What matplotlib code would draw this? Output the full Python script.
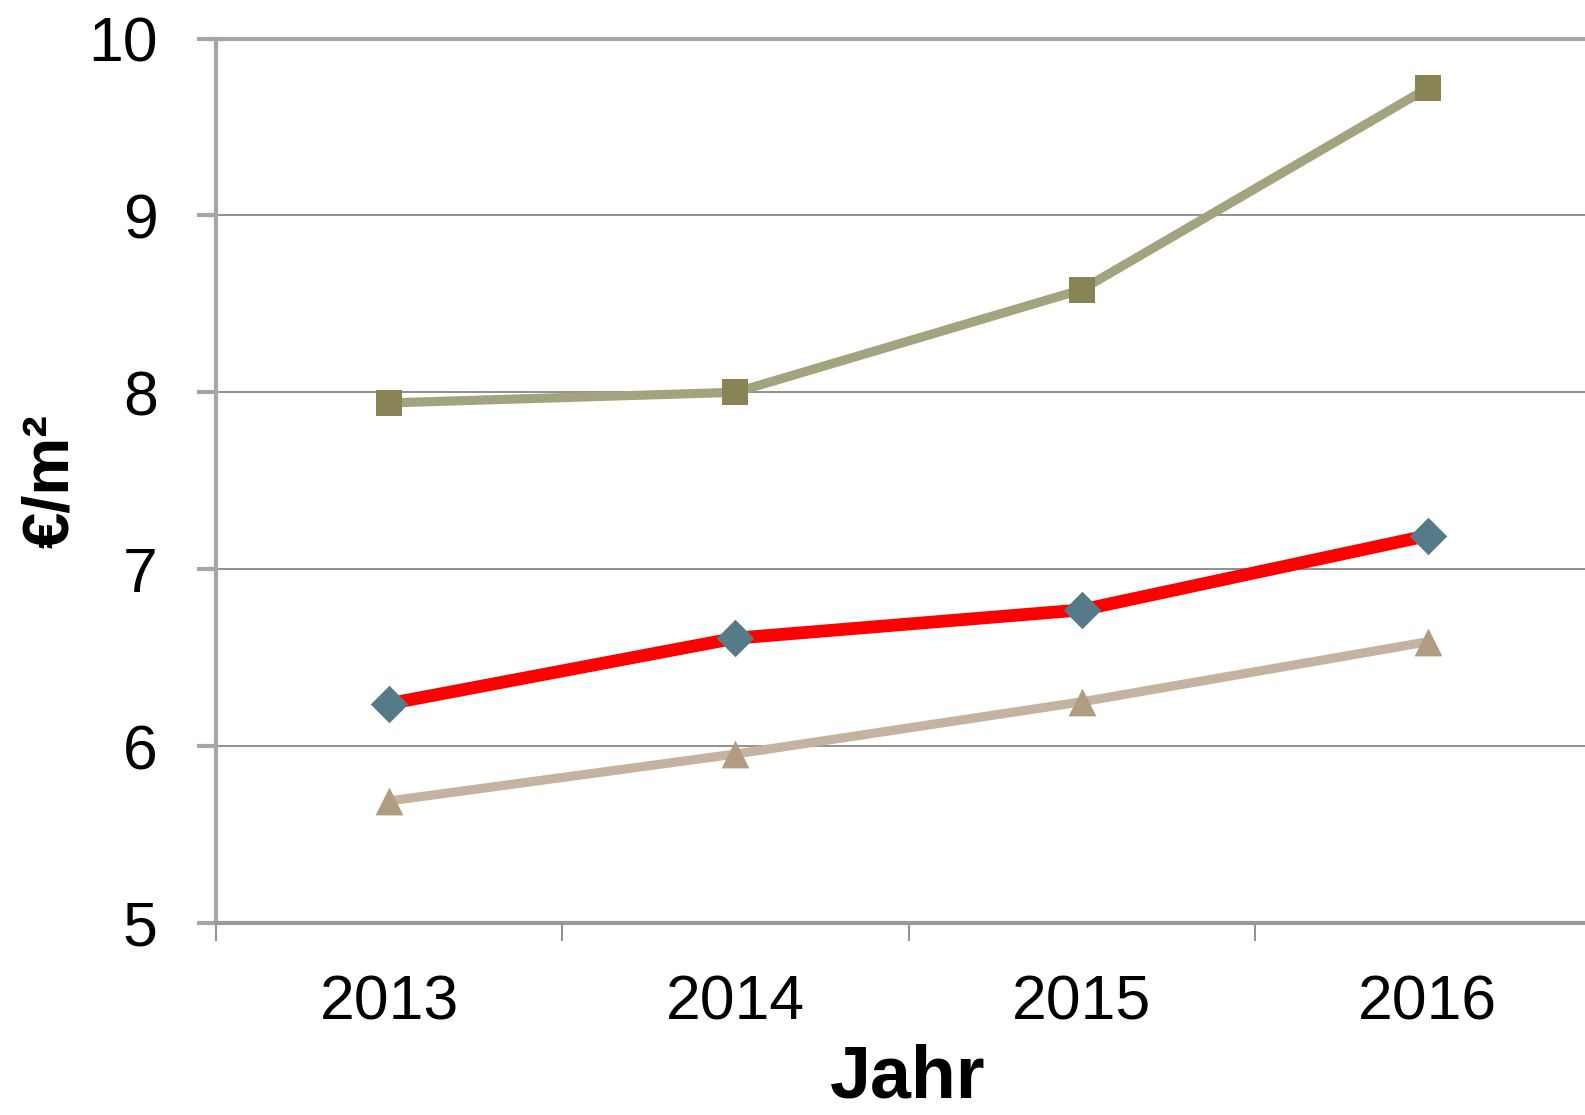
import matplotlib
matplotlib.use("Agg")
import matplotlib.pyplot as plt

years = ["2013", "2014", "2015", "2016"]
series_square = [7.94, 8.00, 8.58, 9.72]
series_diamond = [6.24, 6.61, 6.77, 7.19]
series_triangle = [5.69, 5.955, 6.25, 6.59]
y_ticks = [5, 6, 7, 8, 9, 10]

plt.rcParams['font.family'] = ['Liberation Sans', 'DejaVu Sans']

W, H = 1585, 1115
fig = plt.figure(figsize=(W / 100, H / 100), dpi=100)

left_px, right_px = 216, 1601
top_px, bot_px = 38.5, 923
ax = fig.add_axes([left_px / W, 1 - bot_px / H, (right_px - left_px) / W, (bot_px - top_px) / H])

x = list(range(len(years)))

ax.plot(x, series_square, color="#A4A37F", lw=6.6, solid_capstyle="butt", zorder=3)
ax.plot(x, series_square, ls="none", marker="s", ms=19, mfc="#888456", mec="#888456", mew=0, zorder=4)

ax.plot(x, series_diamond, color="#FF0000", lw=9.2, solid_capstyle="butt", zorder=3)
ax.plot(x, series_diamond, ls="none", marker=[(0, 1), (1, 0), (0, -1), (-1, 0)], ms=27, mfc="#557B88", mec="#557B88", mew=0, zorder=4)

ax.plot(x, series_triangle, color="#C4B3A0", lw=6.6, solid_capstyle="butt", zorder=3)
ax.plot(x, series_triangle, ls="none", marker=[(0, 1), (-1, -1), (1, -1)], ms=20, mfc="#B09C80", mec="#B09C80", mew=0, zorder=4)

ax.set_xlim(-0.5, len(years) - 0.5)
ax.set_ylim(5, 10)

# y axis
ax.set_yticks(y_ticks)
ax.set_yticklabels([str(v) for v in y_ticks], fontsize=45)
ax.tick_params(axis="y", which="major", direction="out", length=14, width=3, color="#A6A6A6", pad=28)
ax.yaxis.grid(True, color="#8F8F8F", lw=1.4)
ax.set_axisbelow(True)

# x axis: boundary ticks (major) and labels at categories (minor)
ax.set_xticks([i - 0.5 for i in range(len(years) + 1)])
ax.set_xticklabels([])
ax.set_xticks(x, minor=True)
ax.set_xticklabels(years, minor=True, fontsize=45)
ax.tick_params(axis="x", which="major", direction="out", length=13, width=1.4, color="#8F8F8F")
ax.tick_params(axis="x", which="minor", length=0, pad=36)

for side in ["left", "top", "bottom"]:
    ax.spines[side].set_color("#A6A6A6")
    ax.spines[side].set_linewidth(3)
ax.spines["bottom"].set_color("#999999")
ax.spines["right"].set_visible(False)

fig.text(908 / W, 1 - 1098 / H, "Jahr", fontsize=53, fontweight="bold", ha="center", va="baseline")
fig.text(51 / W, 1 - 481 / H, "€/m²", fontsize=47, fontweight="bold", rotation=90, ha="center", va="center")

fig.savefig("out.png", dpi=100)
